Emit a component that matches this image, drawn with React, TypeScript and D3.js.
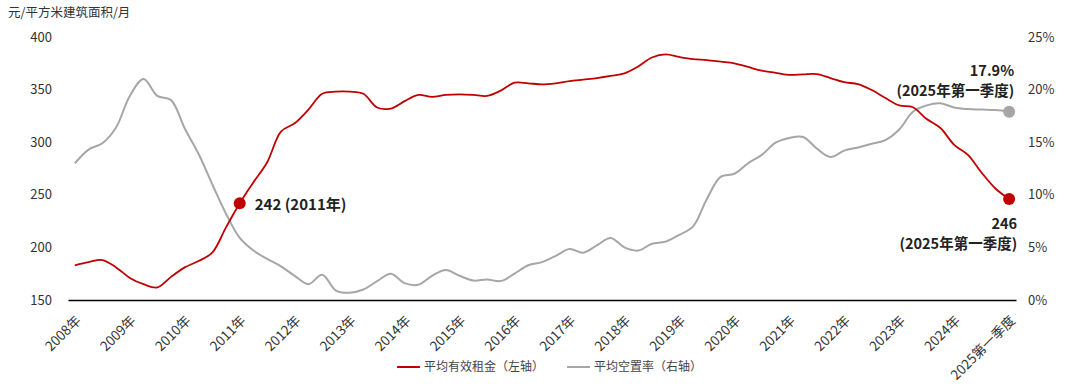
import { useEffect, useRef } from "react";
import * as d3 from "d3";

// 年份标签（每年第一季度显示），最后一个为 2025 第一季度
const yearLabels = [
  "2008年", "2009年", "2010年", "2011年", "2012年", "2013年", "2014年", "2015年", "2016年",
  "2017年", "2018年", "2019年", "2020年", "2021年", "2022年", "2023年", "2024年",
];
const lastLabel = "2025第一季度";

// 平均有效租金（元/平方米建筑面积/月），按季度
const rentValues = [
  183, 186, 188, 181, 171, 165, 162, 172, 181, 187, 195, 219,
  242, 262, 281, 310, 318, 331, 346, 348, 348, 346, 333, 332,
  339, 345, 343, 345, 345.5, 345, 344, 349, 356.6, 356, 355, 356,
  358, 359.5, 361, 363, 365.5, 372, 380.5, 383.5, 381, 379, 378, 376.5,
  375, 371.5, 368, 366, 364, 364.5, 364.8, 361, 357, 355.3, 349.6, 342,
  335, 333.2, 322, 313.5, 297.5, 288, 271, 256, 246,
];

// 平均空置率（%），按季度
const vacancyValues = [
  13.0, 14.3, 14.9, 16.4, 19.4, 21.0, 19.4, 19.0, 16.3, 13.9, 11.0, 8.2,
  5.9, 4.7, 3.9, 3.2, 2.3, 1.5, 2.4, 0.9, 0.7, 1.0, 1.8, 2.5,
  1.6, 1.45, 2.3, 2.85, 2.3, 1.85, 1.95, 1.8, 2.5, 3.3, 3.6, 4.2,
  4.85, 4.5, 5.2, 5.9, 5.0, 4.7, 5.35, 5.55, 6.2, 7.0, 9.6, 11.7,
  12.0, 13.0, 13.8, 14.95, 15.4, 15.5, 14.4, 13.6, 14.2, 14.5, 14.85, 15.2,
  16.2, 17.9, 18.5, 18.7, 18.3, 18.15, 18.1, 18.05, 17.9,
];

const leftTicks = [150, 200, 250, 300, 350, 400];
const rightTicks = [0, 5, 10, 15, 20, 25];

// 季度类别
const quarters: string[] = [];
yearLabels.forEach((y) => {
  for (let q = 1; q <= 4; q++) quarters.push(`${y}Q${q}`);
});
quarters.push(lastLabel);

const tickLabelOf = (k: string) => (k.endsWith("Q1") ? k.replace("Q1", "") : k);

const FONT = "'Noto Sans CJK SC', 'Noto Sans', sans-serif";
const RED = "#c00000";
const GRAY = "#a6a6a6";

export default function App() {
  const svgRef = useRef<SVGSVGElement>(null);

  useEffect(() => {
    if (!svgRef.current) return;
    const W = 1080;
    const H = 387;
    const svg = d3.select(svgRef.current);
    svg.selectAll("*").remove();
    svg.attr("width", W).attr("height", H).style("font-family", FONT);

    const x = d3.scalePoint<string>().domain(quarters).range([68, 1016]).padding(0.5);
    const yL = d3.scaleLinear().domain([150, 400]).range([300, 37]);
    const yR = d3.scaleLinear().domain([0, 25]).range([300, 37]);

    // 单位
    svg
      .append("text")
      .attr("x", 8)
      .attr("y", 13)
      .attr("dy", "0.35em")
      .attr("fill", "#333")
      .style("font-size", "12.5px")
      .text("元/平方米建筑面积/月");

    // 左轴
    const left = svg
      .append("g")
      .attr("transform", "translate(52,0)")
      .call(d3.axisLeft(yL).tickValues(leftTicks).tickSize(0).tickPadding(0));
    left.select(".domain").remove();
    left.selectAll("text").attr("fill", "#333").style("font-size", "13px").style("font-family", FONT);

    // 右轴
    const right = svg
      .append("g")
      .attr("transform", "translate(1028,0)")
      .call(
        d3
          .axisRight(yR)
          .tickValues(rightTicks)
          .tickSize(0)
          .tickPadding(0)
          .tickFormat((d) => `${d}%`),
      );
    right.select(".domain").remove();
    right.selectAll("text").attr("fill", "#333").style("font-size", "13px").style("font-family", FONT);

    // x 轴
    const bottom = svg
      .append("g")
      .attr("transform", "translate(0,300)")
      .call(
        d3
          .axisBottom(x)
          .tickValues(quarters.filter((k) => k.endsWith("Q1") || k === lastLabel))
          .tickSize(0)
          .tickFormat((k) => tickLabelOf(k as string)),
      );
    bottom.select(".domain").attr("stroke", "#000").attr("stroke-width", 1.5);
    bottom
      .selectAll("text")
      .attr("y", 0)
      .attr("dy", "0.35em")
      .attr("text-anchor", "end")
      .attr("transform", "translate(3,18) rotate(-45)")
      .attr("fill", "#333")
      .style("font-size", "13.5px")
      .style("font-family", FONT);

    // 线
    const rentLine = d3
      .line<number>()
      .x((_d, i) => x(quarters[i]) as number)
      .y((d) => yL(d))
      .curve(d3.curveCatmullRom.alpha(0.5));
    const vacLine = d3
      .line<number>()
      .x((_d, i) => x(quarters[i]) as number)
      .y((d) => yR(d))
      .curve(d3.curveCatmullRom.alpha(0.5));

    svg
      .append("path")
      .datum(vacancyValues)
      .attr("fill", "none")
      .attr("stroke", GRAY)
      .attr("stroke-width", 2)
      .attr("d", vacLine);

    svg
      .append("path")
      .datum(rentValues)
      .attr("fill", "none")
      .attr("stroke", RED)
      .attr("stroke-width", 1.8)
      .attr("d", rentLine);

    // 标注点
    const i2011 = quarters.indexOf("2011年Q1");
    const last = quarters.length - 1;
    const ax = x(quarters[i2011]) as number;
    const ay = yL(rentValues[i2011]);
    svg.append("circle").attr("cx", ax).attr("cy", ay).attr("r", 6).attr("fill", RED);
    svg
      .append("text")
      .attr("x", ax + 15)
      .attr("y", ay + 2)
      .attr("dy", "0.35em")
      .attr("fill", "#222")
      .style("font-size", "15px")
      .style("font-weight", "bold")
      .text(`${rentValues[i2011]} (2011年)`);

    const lx = x(quarters[last]) as number;
    const ry = yL(rentValues[last]);
    const vy = yR(vacancyValues[last]);
    svg.append("circle").attr("cx", lx).attr("cy", vy).attr("r", 6).attr("fill", GRAY);
    svg.append("circle").attr("cx", lx).attr("cy", ry).attr("r", 6).attr("fill", RED);

    const note = (tx: number, ty: number, s: string) =>
      svg
        .append("text")
        .attr("x", tx)
        .attr("y", ty)
        .attr("dy", "0.35em")
        .attr("text-anchor", "end")
        .attr("fill", "#222")
        .style("font-size", "14.5px")
        .style("font-weight", "bold")
        .text(s);

    note(lx + 5, vy - 41, `${vacancyValues[last]}%`);
    note(lx + 5, vy - 21, "(2025年第一季度)");
    note(lx + 8, ry + 25, `${rentValues[last]}`);
    note(lx + 8, ry + 45, "(2025年第一季度)");

    // 图例
    const legend = [
      { label: "平均有效租金（左轴）", color: RED, x: 397 },
      { label: "平均空置率（右轴）", color: GRAY, x: 567 },
    ];
    legend.forEach((d) => {
      const g = svg.append("g").attr("transform", `translate(${d.x},367)`);
      g.append("line").attr("x1", 0).attr("x2", 23).attr("stroke", d.color).attr("stroke-width", 2);
      g.append("text")
        .attr("x", 27)
        .attr("dy", "0.35em")
        .attr("fill", "#444")
        .style("font-size", "12px")
        .text(d.label);
    });
  }, []);

  return (
    <div style={{ position: "absolute", left: 0, top: 0, width: 1080, height: 387, background: "#fff" }}>
      <svg ref={svgRef} />
    </div>
  );
}
